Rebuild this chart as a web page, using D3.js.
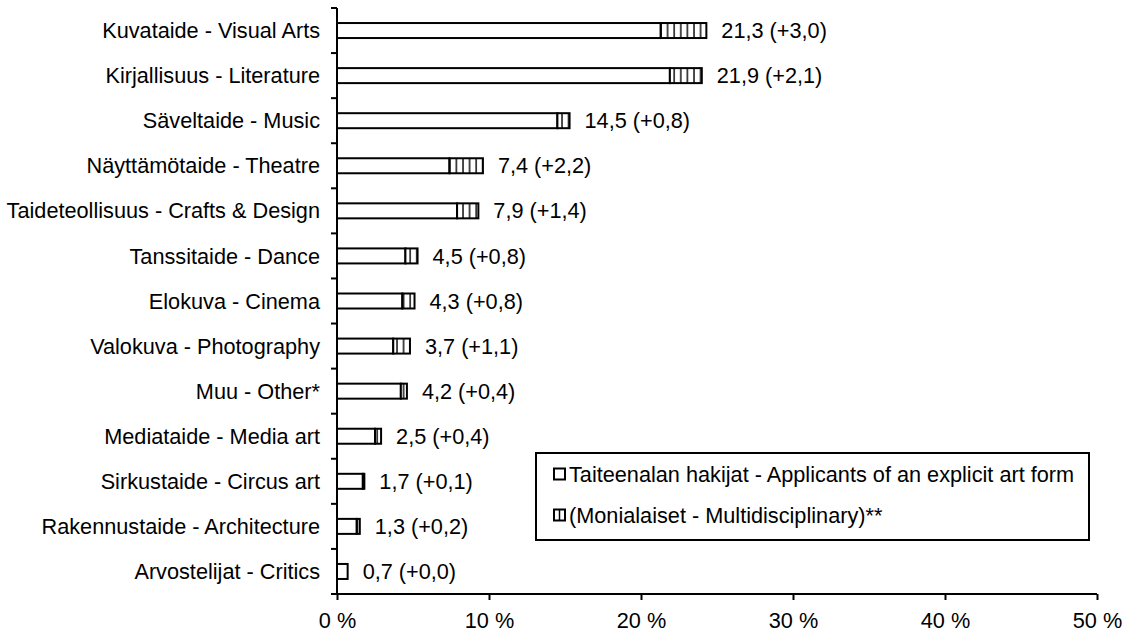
<!DOCTYPE html>
<html>
<head>
<meta charset="utf-8">
<script src="https://cdn.jsdelivr.net/npm/d3@7"></script>
<style>
  html, body { margin: 0; padding: 0; background: #fff; }
  text { font-family: "Liberation Sans", Arial, sans-serif; fill: #000; }
</style>
</head>
<body>
<svg id="chart" width="1127" height="635"></svg>
<script>
const categories = [
  "Kuvataide - Visual Arts",
  "Kirjallisuus - Literature",
  "Säveltaide - Music",
  "Näyttämötaide - Theatre",
  "Taideteollisuus - Crafts & Design",
  "Tanssitaide - Dance",
  "Elokuva - Cinema",
  "Valokuva - Photography",
  "Muu - Other*",
  "Mediataide - Media art",
  "Sirkustaide - Circus art",
  "Rakennustaide - Architecture",
  "Arvostelijat - Critics"
];
const explicitValues = [21.3, 21.9, 14.5, 7.4, 7.9, 4.5, 4.3, 3.7, 4.2, 2.5, 1.7, 1.3, 0.7];
const multiValues    = [3.0, 2.1, 0.8, 2.2, 1.4, 0.8, 0.8, 1.1, 0.4, 0.4, 0.1, 0.2, 0.0];
const xTicks = [0, 10, 20, 30, 40, 50];
const seriesNames = [
  "Taiteenalan hakijat - Applicants of an explicit art form",
  "(Monialaiset - Multidisciplinary)**"
];

const fmt = v => v.toFixed(1).replace(".", ",");
const FS = 21.7;

const svg = d3.select("#chart");
const defs = svg.append("defs");
const pat = defs.append("pattern")
  .attr("id", "vhatch").attr("patternUnits", "userSpaceOnUse")
  .attr("width", 6.6).attr("height", 10);
pat.append("rect").attr("width", 6.6).attr("height", 10).attr("fill", "#fff");
pat.append("line").attr("x1", 1).attr("x2", 1).attr("y1", 0).attr("y2", 10)
  .attr("stroke", "#000").attr("stroke-width", 1.4);

const x = d3.scaleLinear().domain([0, 50]).range([337, 1097]);
const y = d3.scaleBand().domain(categories).range([8, 594]).paddingInner(0).paddingOuter(0);
const barH = 15;

const data = categories.map((c, i) => ({ c, a: explicitValues[i], b: multiValues[i] }));

// bars
const g = svg.append("g");
g.selectAll("rect.a").data(data).join("rect")
  .attr("class", "a")
  .attr("x", d => x(0)).attr("y", d => y(d.c) + y.bandwidth() / 2 - barH / 2)
  .attr("width", d => x(d.a) - x(0)).attr("height", barH)
  .attr("fill", "#fff").attr("stroke", "#000").attr("stroke-width", 2);
g.selectAll("rect.b").data(data.filter(d => d.b > 0)).join("rect")
  .attr("class", "b")
  .attr("x", d => x(d.a)).attr("y", d => y(d.c) + y.bandwidth() / 2 - barH / 2)
  .attr("width", d => x(d.a + d.b) - x(d.a)).attr("height", barH)
  .attr("fill", "url(#vhatch)").attr("stroke", "#000").attr("stroke-width", 2);

// value labels
g.selectAll("text.val").data(data).join("text")
  .attr("class", "val")
  .attr("x", d => x(d.a + d.b) + 15)
  .attr("y", d => y(d.c) + y.bandwidth() / 2)
  .attr("dy", "0.35em")
  .attr("font-size", FS)
  .text(d => `${fmt(d.a)} (+${fmt(d.b)})`);

// y axis
const yAxis = svg.append("g");
yAxis.append("line").attr("x1", x(0)).attr("x2", x(0)).attr("y1", y.range()[0]).attr("y2", y.range()[1])
  .attr("stroke", "#000").attr("stroke-width", 2);
const bounds = categories.map(c => y(c)).concat([y.range()[1]]);
yAxis.selectAll("line.t").data(bounds).join("line").attr("class", "t")
  .attr("x1", x(0) - 6).attr("x2", x(0)).attr("y1", d => d).attr("y2", d => d)
  .attr("stroke", "#000").attr("stroke-width", 2);
yAxis.selectAll("text").data(categories).join("text")
  .attr("x", 320).attr("y", d => y(d) + y.bandwidth() / 2).attr("dy", "0.35em")
  .attr("text-anchor", "end").attr("font-size", FS).text(d => d);

// x axis
const xAxis = svg.append("g").attr("transform", `translate(0,${y.range()[1]})`)
  .call(d3.axisBottom(x).tickValues(xTicks).tickSize(6).tickPadding(13).tickFormat(d => d + " %"));
xAxis.select(".domain").attr("stroke", "#000").attr("stroke-width", 2).attr("d", `M${x(0)},0H${x(50)}`);
xAxis.selectAll(".tick line").attr("stroke", "#000").attr("stroke-width", 2);
xAxis.selectAll(".tick text").attr("font-size", FS).attr("font-family", "Liberation Sans, Arial, sans-serif").attr("fill", "#000");

// legend
const lg = svg.append("g");
lg.append("rect").attr("x", 536).attr("y", 453).attr("width", 553).attr("height", 87)
  .attr("fill", "#fff").attr("stroke", "#000").attr("stroke-width", 2);
const legY = [474, 515];
seriesNames.forEach((s, i) => {
  lg.append("rect").attr("x", 554).attr("y", legY[i] - 5.5).attr("width", 11).attr("height", 11)
    .attr("fill", "#fff").attr("stroke", "#000").attr("stroke-width", 2);
  if (i === 1) {
    lg.append("line").attr("x1", 559.5).attr("x2", 559.5).attr("y1", legY[i] - 5.5).attr("y2", legY[i] + 5.5)
      .attr("stroke", "#000").attr("stroke-width", 1.5);
  }
  lg.append("text").attr("x", 569).attr("y", legY[i]).attr("dy", "0.35em")
    .attr("font-size", FS).text(s);
});
</script>
</body>
</html>
